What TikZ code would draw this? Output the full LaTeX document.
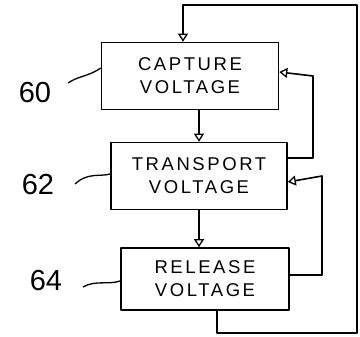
\documentclass[tikz,border=0pt]{standalone}
\usepackage{fontspec}
\setmainfont{Liberation Sans}
\newfontfamily\boxfont[LetterSpace=14]{Liberation Sans}
\usetikzlibrary{arrows.meta}
\begin{document}
\begin{tikzpicture}[x=1pt,y=1pt,line width=1.6pt,line join=round,
  stepbox/.style={draw,minimum width=#1,align=center,inner sep=0pt,
    font=\boxfont\fontsize{18.5}{23}\selectfont},
  arr/.style={-{Triangle[open,length=8pt,width=10pt,line width=1.3pt]}},
  reflabel/.style={font=\fontsize{29}{30}\selectfont}]
\useasboundingbox (0,0) rectangle (360,337);
\node[stepbox=177pt,minimum height=67pt] (b1) at (190,261) {CAPTURE\\VOLTAGE};
\node[stepbox=176pt,minimum height=67pt] (b2) at (199,161) {TRANSPORT\\VOLTAGE};
\node[stepbox=168pt,minimum height=62pt] (b3) at (205,58) {RELEASE\\VOLTAGE};
% downward arrows
\draw[arr] (b1.south -| b2.north) -- (b2.north);
\draw[arr] (b2.south) -- (b2.south |- b3.north);
% feedback loops
\coordinate (f1) at (313,0);
\draw[arr] ([yshift=18pt]b2.east) -| (f1 |- b1.east) -- ([yshift=4pt]b1.east);
\coordinate (f2) at (322,0);
\draw[arr] ([yshift=4pt]b3.east) -| (f2 |- b2.east) -- ([yshift=-6pt]b2.east);
\coordinate (bl) at (357,4);
\coordinate (tr) at (357,332);
\draw[arr] ([xshift=12pt]b3.south) -- ([xshift=12pt]b3.south |- bl) -- (bl) -- (tr)
  -- (183,332) -- (183,0 |- b1.north);
% reference labels
\node[reflabel] (l60) at (35,244) {60};
\node[reflabel] (l62) at (38,152) {62};
\node[reflabel] (l64) at (46,56) {64};
\coordinate (c60) at (68,254);
\coordinate (c62) at (75,153);
\coordinate (c64) at (83,50);
\draw[line width=1.3pt] (c60) .. controls (78,261) and (90,261) .. ([yshift=8pt]b1.west);
\draw[line width=1.3pt] (c62) .. controls (88,165) and (100,160) .. ([yshift=2pt]b2.west);
\draw[line width=1.3pt] (c64) .. controls (95,57) and (108,52) .. ([yshift=-2pt]b3.west);
\end{tikzpicture}
\end{document}
